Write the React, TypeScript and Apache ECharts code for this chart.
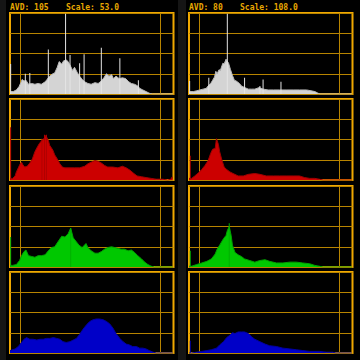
import React, { useEffect, useRef } from "react";
import * as echarts from "echarts";

type Pt = [number, number];

// Histogram outlines: [level 0..255, height in % of panel]
const lumaLeftBase: Pt[] = [[0,3],[5,3],[10,5],[14,9],[17,14],[19,18],[22,16],[25,17],[29,12],[34,13],[39,12],[44,13],[49,12],[55,15],[58,18],[62,22],[67,25],[70,26],[74,33],[77,40],[81,37],[84,41],[88,42],[91,40],[95,34],[98,29],[101,33],[105,27],[109,22],[113,18],[117,15],[122,13],[127,12],[133,14],[138,13],[143,16],[147,20],[151,25],[155,22],[159,24],[162,19],[166,22],[171,19],[176,20],[181,19],[186,15],[190,13],[195,12],[200,10],[203,7],[208,5],[213,3],[218,1],[223,0],[255,0]];
const lumaLeftSpikes: Pt[] = [[1,37],[24,25],[31,26],[60,55],[87,99],[94,48],[109,38],[116,49],[143,57],[172,44],[201,17]];

const lumaRightBase: Pt[] = [[0,3],[7,3],[12,4],[17,5],[22,6],[27,7],[30,10],[34,13],[37,17],[40,21],[42,28],[44,25],[47,30],[49,29],[53,38],[55,37],[58,43],[62,38],[65,30],[68,23],[71,17],[74,16],[79,13],[82,10],[87,8],[93,6],[98,6],[103,6],[110,8],[116,6],[124,5],[132,5],[142,5],[152,5],[163,5],[173,5],[184,5],[191,4],[197,3],[202,1],[205,0],[255,0]];
const lumaRightSpikes: Pt[] = [[1,16],[31,20],[60,99],[87,20],[111,10],[116,18],[144,15]];

const redLeftBase: Pt[] = [[0,2],[4,2],[8,5],[10,10],[13,15],[16,20],[18,22],[20,19],[23,16],[27,17],[31,21],[35,26],[39,35],[43,41],[46,45],[49,48],[53,51],[56,55],[60,49],[62,43],[67,37],[70,31],[74,26],[78,20],[82,16],[86,15],[94,15],[101,15],[109,15],[117,17],[122,20],[127,22],[133,24],[138,23],[143,21],[148,18],[153,16],[161,16],[169,15],[176,17],[182,15],[188,12],[194,8],[199,5],[206,4],[213,3],[221,2],[229,1],[239,1],[247,0],[252,1],[254,4],[255,4]];
const redLeftSpikes: Pt[] = [[1,65],[50,51],[54,56],[57,56]];

const redRightBase: Pt[] = [[0,2],[4,2],[9,5],[15,9],[20,13],[25,18],[30,24],[34,33],[37,38],[41,39],[43,51],[46,44],[48,35],[51,26],[55,16],[59,13],[64,10],[69,8],[77,5],[85,5],[93,7],[103,8],[111,7],[121,5],[132,5],[142,5],[152,5],[163,5],[173,5],[181,3],[189,2],[197,2],[204,1],[210,0],[255,0]];
const redRightSpikes: Pt[] = [[2,30]];

const greenLeftBase: Pt[] = [[0,2],[4,2],[10,3],[15,8],[18,14],[22,19],[25,21],[29,14],[34,13],[39,12],[44,14],[49,14],[55,15],[60,20],[65,24],[70,25],[75,31],[81,38],[86,37],[91,41],[95,48],[99,36],[103,32],[108,27],[113,24],[119,29],[122,24],[127,20],[133,17],[138,17],[143,19],[148,22],[153,24],[159,25],[164,24],[169,23],[174,22],[179,22],[185,20],[190,21],[195,18],[200,14],[206,10],[211,6],[216,3],[221,1],[226,0],[255,0]];
const greenLeftSpikes: Pt[] = [[1,37],[95,48]];

const greenRightBase: Pt[] = [[0,1],[4,1],[12,3],[20,5],[28,7],[35,10],[41,16],[44,22],[48,27],[54,35],[58,39],[60,45],[63,50],[66,39],[68,27],[72,18],[77,15],[82,13],[87,10],[95,8],[103,6],[111,8],[119,9],[126,7],[137,5],[147,5],[158,6],[168,6],[178,5],[189,4],[197,2],[204,1],[210,0],[255,0]];
const greenRightSpikes: Pt[] = [[2,20],[63,54]];

const blueLeftBase: Pt[] = [[0,3],[8,5],[13,8],[18,13],[22,17],[26,19],[31,17],[36,17],[42,16],[47,17],[52,17],[57,18],[62,18],[68,19],[73,18],[78,17],[83,14],[88,13],[94,14],[99,16],[104,18],[109,23],[114,29],[120,35],[125,39],[130,41],[135,42],[140,42],[146,41],[151,39],[156,36],[161,31],[166,24],[172,18],[177,14],[182,11],[187,10],[192,8],[198,8],[203,6],[208,6],[213,5],[218,3],[224,1],[229,0],[255,0]];
const blueLeftSpikes: Pt[] = [];

const blueRightBase: Pt[] = [[0,0],[4,0],[12,1],[20,2],[28,3],[35,4],[43,6],[48,10],[54,14],[59,19],[64,22],[68,25],[72,24],[77,26],[82,26],[87,26],[93,24],[98,20],[103,17],[111,14],[119,11],[126,9],[137,8],[147,6],[158,5],[168,4],[178,3],[189,2],[204,2],[215,1],[225,1],[230,0],[255,0]];
const blueRightSpikes: Pt[] = [[2,15]];

const avdValues = ["105", "80"];
const scaleValues = ["53.0", "108.0"];
const referenceLevels = [16, 235];

// layout (pixels)
const COL_LEFT = [10, 189];
const COL_WIDTH = 163.5;
const ROW_TOP = [13, 99, 186, 272];
const ROW_HEIGHT = 81;

const BORDER = "#f0a800";
const GRIDLINE = "#b88400";
const TEXT = "#e8a800";

const panels = [
  { base: lumaLeftBase, spikes: lumaLeftSpikes, fill: "#d4d4d4", edge: "#b8b8b8", spike: "#e4e4e4", col: 0, row: 0 },
  { base: lumaRightBase, spikes: lumaRightSpikes, fill: "#d4d4d4", edge: "#b8b8b8", spike: "#e4e4e4", col: 1, row: 0 },
  { base: redLeftBase, spikes: redLeftSpikes, fill: "#cc0000", edge: "#a00000", spike: "#b00000", col: 0, row: 1 },
  { base: redRightBase, spikes: redRightSpikes, fill: "#cc0000", edge: "#a00000", spike: "#b00000", col: 1, row: 1 },
  { base: greenLeftBase, spikes: greenLeftSpikes, fill: "#00c800", edge: "#00a000", spike: "#00b000", col: 0, row: 2 },
  { base: greenRightBase, spikes: greenRightSpikes, fill: "#00c800", edge: "#00a000", spike: "#00b000", col: 1, row: 2 },
  { base: blueLeftBase, spikes: blueLeftSpikes, fill: "#0000c8", edge: "#0000a0", spike: "#0000b0", col: 0, row: 3 },
  { base: blueRightBase, spikes: blueRightSpikes, fill: "#0000c8", edge: "#0000a0", spike: "#0000b0", col: 1, row: 3 },
];

export default function App() {
  const ref = useRef<HTMLDivElement>(null);
  useEffect(() => {
    if (!ref.current) return;
    const chart = echarts.init(ref.current, undefined, { renderer: "svg" });
    const grid: any[] = [];
    const xAxis: any[] = [];
    const yAxis: any[] = [];
    const series: any[] = [];
    panels.forEach((p, i) => {
      grid.push({
        left: COL_LEFT[p.col],
        top: ROW_TOP[p.row],
        width: COL_WIDTH,
        height: ROW_HEIGHT,
        show: true,
        borderColor: BORDER,
        borderWidth: 2,
        backgroundColor: "#000",
        z: 0,
      });
      xAxis.push({
        type: "value",
        gridIndex: i,
        min: 0,
        max: 256,
        axisLine: { show: false },
        axisTick: { show: false },
        axisLabel: { show: false },
        splitLine: { show: false },
      });
      yAxis.push({
        type: "value",
        gridIndex: i,
        min: 0,
        max: 100,
        interval: 25,
        axisLine: { show: false },
        axisTick: { show: false },
        axisLabel: { show: false },
        splitLine: { show: true, lineStyle: { color: GRIDLINE, width: 1 } },
      });
      series.push({
        type: "line",
        xAxisIndex: i,
        yAxisIndex: i,
        data: [],
        z: 1,
        silent: true,
        markLine: {
          silent: true,
          symbol: ["none", "none"],
          label: { show: false },
          z: 1,
          lineStyle: { color: GRIDLINE, width: 1, type: "solid" },
          data: referenceLevels.map((v) => ({ xAxis: v })),
        },
      });
      series.push({
        type: "line",
        xAxisIndex: i,
        yAxisIndex: i,
        data: p.base,
        showSymbol: false,
        symbol: "none",
        z: 3,
        lineStyle: { color: p.edge, width: 1 },
        areaStyle: { color: p.fill, opacity: 1 },
      });
      series.push({
        type: "bar",
        xAxisIndex: i,
        yAxisIndex: i,
        data: p.spikes,
        barWidth: 1,
        z: 4,
        itemStyle: { color: p.spike },
      });
    });
    const font = { fontFamily: "DejaVu Sans Mono", fontWeight: "bold", fontSize: 8, fill: TEXT };
    const graphic: any[] = [
      { type: "rect", shape: { x: 6, y: 0, width: 172, height: 360 }, style: { fill: "#000" }, z: -10, silent: true },
      { type: "rect", shape: { x: 186, y: 0, width: 174, height: 360 }, style: { fill: "#000" }, z: -10, silent: true },
      { type: "text", x: 10, y: 7, style: { ...font, text: "AVD: " + avdValues[0], verticalAlign: "middle" } },
      { type: "text", x: 66, y: 7, style: { ...font, text: "Scale: " + scaleValues[0], verticalAlign: "middle" } },
      { type: "text", x: 189, y: 7, style: { ...font, text: "AVD: " + avdValues[1], verticalAlign: "middle" } },
      { type: "text", x: 240, y: 7, style: { ...font, text: "Scale: " + scaleValues[1], verticalAlign: "middle" } },
    ];
    chart.setOption({
      animation: false,
      backgroundColor: "#151515",
      grid,
      xAxis,
      yAxis,
      series,
      graphic,
    });
    return () => chart.dispose();
  }, []);
  return <div ref={ref} style={{ position: "fixed", left: 0, top: 0, width: 360, height: 360 }} />;
}
